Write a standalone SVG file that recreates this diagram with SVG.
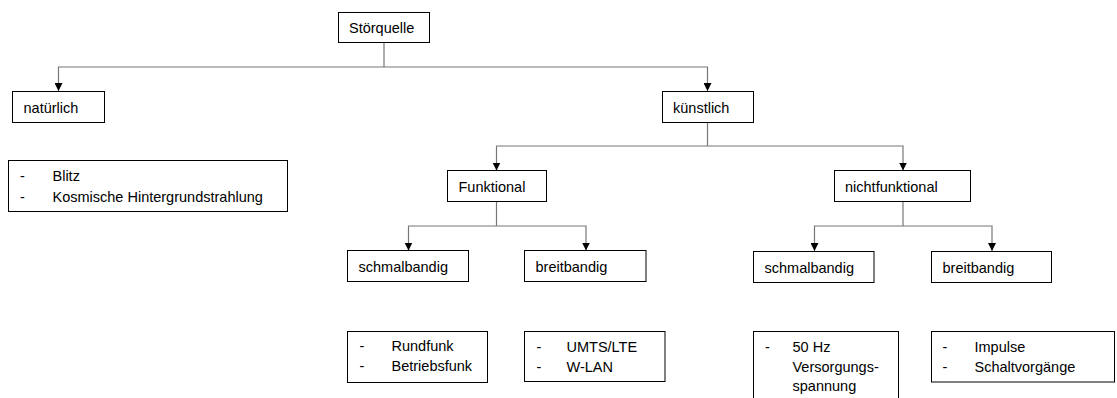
<svg xmlns="http://www.w3.org/2000/svg" width="1117" height="398" viewBox="0 0 1117 398">
<defs>
<marker id="arr" viewBox="0 0 8 8" refX="8" refY="4" markerWidth="8" markerHeight="8" markerUnits="userSpaceOnUse" orient="auto">
<path d="M0,0 L8,4 L0,8 Z" fill="#000"/>
</marker>
<style>
rect{fill:#fff;stroke:#000;stroke-width:1}
text{font-family:"Liberation Sans",Arial,sans-serif;font-size:14.5px;fill:#000}
.c{fill:none;stroke:#777;stroke-width:1.2}
.a{marker-end:url(#arr)}
</style>
</defs>
<rect width="1117" height="398" style="stroke:none"/>
<g id="connectors">
<path class="c" d="M384,42.5 V67"/>
<path class="c a" d="M384,67 H58.5 V91"/>
<path class="c a" d="M384,67 H707.5 V91"/>
<path class="c" d="M707.5,122.5 V146"/>
<path class="c a" d="M707.5,146 H496.5 V170.5"/>
<path class="c a" d="M707.5,146 H903 V170.5"/>
<path class="c" d="M496.5,201.5 V226"/>
<path class="c a" d="M496.5,226 H408.5 V250.5"/>
<path class="c a" d="M496.5,226 H586 V250.5"/>
<path class="c" d="M903,201.5 V226"/>
<path class="c a" d="M903,226 H814.5 V251"/>
<path class="c a" d="M903,226 H992 V251"/>
</g>
<g id="stoerquelle"><rect x="338.5" y="12.5" width="91" height="30"/><text x="349" y="33">Störquelle</text></g>
<g id="natuerlich"><rect x="12.5" y="91.5" width="92" height="31"/><text x="23.5" y="112.5">natürlich</text></g>
<g id="kuenstlich"><rect x="662.5" y="91.5" width="91" height="31"/><text x="673" y="112.5">künstlich</text></g>
<g id="natuerlich-liste"><rect x="8.5" y="160.5" width="279" height="51"/><text x="20" y="181">-</text><text x="52.5" y="181">Blitz</text><text x="20" y="201.5">-</text><text x="52.5" y="201.5">Kosmische Hintergrundstrahlung</text></g>
<g id="funktional"><rect x="447.5" y="170.5" width="99" height="31"/><text x="458.5" y="191.5">Funktional</text></g>
<g id="nichtfunktional"><rect x="834.5" y="170.5" width="136" height="31"/><text x="845" y="191.5">nichtfunktional</text></g>
<g id="f-schmalbandig"><rect x="347.5" y="250.5" width="121" height="31"/><text x="358.5" y="271.5">schmalbandig</text></g>
<g id="f-breitbandig"><rect x="524.5" y="250.5" width="121.5" height="31"/><text x="535.5" y="271.5">breitbandig</text></g>
<g id="nf-schmalbandig"><rect x="753.5" y="251.5" width="120.5" height="31"/><text x="764.5" y="272.5">schmalbandig</text></g>
<g id="nf-breitbandig"><rect x="931.5" y="251.5" width="120" height="31"/><text x="942.5" y="272.5">breitbandig</text></g>
<g id="f-schmal-liste"><rect x="347.5" y="331.5" width="140" height="51"/><text x="359.5" y="351">-</text><text x="391.5" y="351">Rundfunk</text><text x="359.5" y="371">-</text><text x="391.5" y="371">Betriebsfunk</text></g>
<g id="f-breit-liste"><rect x="524.5" y="331.5" width="140.5" height="50"/><text x="536.5" y="351.5">-</text><text x="566.5" y="351.5">UMTS/LTE</text><text x="536.5" y="371.5">-</text><text x="566.5" y="371.5">W-LAN</text></g>
<g id="nf-schmal-liste"><rect x="753.5" y="331.5" width="145" height="80"/><text x="765" y="351.5">-</text><text x="792.5" y="351.5">50 Hz</text><text x="792.5" y="371.5">Versorgungs-</text><text x="792.5" y="390.5">spannung</text></g>
<g id="nf-breit-liste"><rect x="931.5" y="331.5" width="183" height="50.5"/><text x="942.5" y="351.5">-</text><text x="974.5" y="351.5">Impulse</text><text x="942.5" y="371.5">-</text><text x="974.5" y="371.5">Schaltvorgänge</text></g>
</svg>
